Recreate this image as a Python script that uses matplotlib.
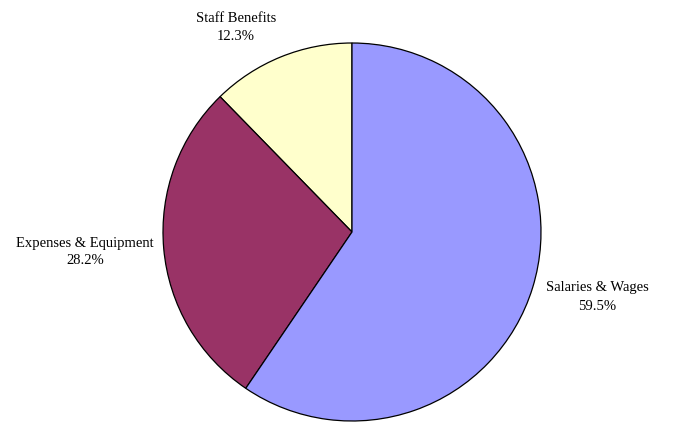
import matplotlib
matplotlib.use("Agg")
import matplotlib.pyplot as plt

categories = ["Staff Benefits", "Expenses & Equipment", "Salaries & Wages"]
values = [12.3, 28.2, 59.5]
colors = ["#FFFFCC", "#993366", "#9999FF"]

W, H = 674, 422
fig = plt.figure(figsize=(W / 100, H / 100), dpi=100)
ax = fig.add_axes([0, 0, 1, 1])

ax.pie(values, colors=colors, startangle=90, counterclock=True,
       center=(352, 422 - 232), radius=189,
       wedgeprops=dict(edgecolor="black", linewidth=0.9))
ax.set_xlim(0, W)
ax.set_ylim(0, H)
ax.set_aspect("equal")
ax.axis("off")

label_pos = [(236, 422 - 27), (85, 422 - 252), (597, 422 - 297)]
for (x, y), name, v in zip(label_pos, categories, values):
    ax.text(x, y, f"{name}\n{v:.1f}%", ha="center", va="center",
            fontsize=10.5, family="Liberation Serif", linespacing=1.5)

fig.savefig("out.png", dpi=100)
